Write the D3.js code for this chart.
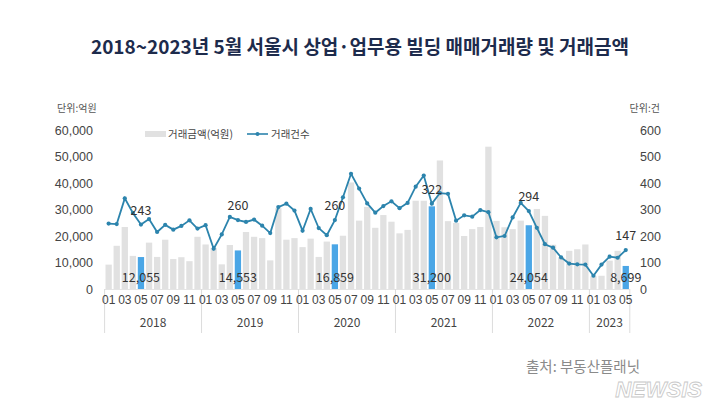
<!DOCTYPE html>
<html><head><meta charset="utf-8">
<script src="https://cdn.jsdelivr.net/npm/d3@7"></script>
<style>
html,body{margin:0;padding:0;background:#fff;}
svg{display:block;font-family:"Noto Sans CJK KR","Noto Sans",sans-serif;}
</style></head>
<body><svg id="c" width="720" height="405"></svg>
<script>
const categories = [
"2018-01","2018-02","2018-03","2018-04","2018-05","2018-06","2018-07","2018-08","2018-09","2018-10","2018-11","2018-12",
"2019-01","2019-02","2019-03","2019-04","2019-05","2019-06","2019-07","2019-08","2019-09","2019-10","2019-11","2019-12",
"2020-01","2020-02","2020-03","2020-04","2020-05","2020-06","2020-07","2020-08","2020-09","2020-10","2020-11","2020-12",
"2021-01","2021-02","2021-03","2021-04","2021-05","2021-06","2021-07","2021-08","2021-09","2021-10","2021-11","2021-12",
"2022-01","2022-02","2022-03","2022-04","2022-05","2022-06","2022-07","2022-08","2022-09","2022-10","2022-11","2022-12",
"2023-01","2023-02","2023-03","2023-04","2023-05"];
const years = ["2018","2019","2020","2021","2022","2023"];
// 거래금액 (억원)
const amount = [
9200,16300,23400,12500,12055,17500,12100,18600,11300,12000,10500,19700,
16800,15500,9300,16600,14553,21500,19700,19200,10800,30500,18600,19200,
15800,19000,12100,17900,16859,20100,40200,25800,31000,23100,27900,25400,
21000,22300,33300,33300,31200,48500,25600,24900,20000,22600,23400,53700,
25700,23300,22600,25800,24054,30200,27600,16700,12000,14400,15000,16800,
4800,5000,10700,14400,8699];
// 거래건수 (건)
const count = [
247,245,342,287,243,264,215,242,224,238,259,228,
241,152,206,272,260,253,262,239,211,309,322,296,
220,302,230,203,260,346,435,379,323,288,313,331,
305,325,386,428,322,362,359,258,278,273,298,290,
195,200,270,325,294,231,169,156,119,96,93,92,
50,92,122,118,147];
const leftTicks = [0,10000,20000,30000,40000,50000,60000];
const rightTicks = [0,100,200,300,400,500,600];
const monthTickLabels = ["01","03","05","07","09","11"];

const svg = d3.select("#c");
const x0 = 104.6, x1 = 629.8, yTop = 130, yBot = 289;

const x = d3.scaleBand().domain(categories).range([x0, x1]).paddingInner(0.22).paddingOuter(0.11);
const yL = d3.scaleLinear().domain([0, 60000]).range([yBot, yTop]);
const yR = d3.scaleLinear().domain([0, 600]).range([yBot, yTop]);
const cx = c => x(c) + x.bandwidth() / 2;
const isMay = c => c.slice(5) === "05";

// title
svg.append("text").attr("x", 360).attr("y", 54).attr("text-anchor", "middle")
  .attr("font-size", 19).attr("font-weight", 700).attr("fill", "#1d2b4c")
  .text("2018~2023년 5월 서울시 상업·업무용 빌딩 매매거래량 및 거래금액");

// units
svg.append("text").attr("x", 57).attr("y", 112).attr("font-size", 10).attr("fill", "#555").text("단위:억원");
svg.append("text").attr("x", 660).attr("y", 112).attr("text-anchor", "end").attr("font-size", 10).attr("fill", "#555").text("단위:건");

// left axis
const gL = svg.append("g").attr("transform", `translate(93,0)`)
  .call(d3.axisLeft(yL).tickValues(leftTicks).tickSize(0).tickPadding(0).tickFormat(d3.format(",")));
gL.select(".domain").remove();
gL.selectAll("text").attr("font-size", 12.5).attr("fill", "#444").attr("font-family", "inherit");

// right axis
const gR = svg.append("g").attr("transform", `translate(640,0)`)
  .call(d3.axisRight(yR).tickValues(rightTicks).tickSize(0).tickPadding(0));
gR.select(".domain").remove();
gR.selectAll("text").attr("font-size", 12.5).attr("fill", "#444").attr("font-family", "inherit");

// bars
svg.append("g").selectAll("rect").data(categories).join("rect")
  .attr("x", d => x(d)).attr("width", x.bandwidth())
  .attr("y", (d, i) => yL(amount[i])).attr("height", (d, i) => yBot - yL(amount[i]))
  .attr("fill", d => isMay(d) ? "#4aa6e6" : "#e1e1e1");

// x axis baseline and year separators
svg.append("line").attr("x1", x0).attr("x2", x1).attr("y1", yBot + 0.5).attr("y2", yBot + 0.5).attr("stroke", "#e4e4e4");
const sepIdx = [0, 12, 24, 36, 48, 60];
const sepX = sepIdx.map(i => x(categories[i]) - x.step() * x.paddingInner() / 2);
sepX.push(x1);
svg.append("g").selectAll("line").data(sepX).join("line")
  .attr("x1", d => d).attr("x2", d => d).attr("y1", yBot).attr("y2", 333)
  .attr("stroke", "#dcdcdc").attr("stroke-width", 1);

// month tick labels
const gX = svg.append("g").attr("transform", `translate(0,${yBot})`)
  .call(d3.axisBottom(x).tickValues(categories.filter(c => monthTickLabels.includes(c.slice(5))))
    .tickSize(0).tickPadding(6).tickFormat(c => c.slice(5)));
gX.select(".domain").remove();
gX.selectAll("text").attr("font-size", 12).attr("fill", "#444").attr("font-family", "inherit");

// year labels
svg.append("g").selectAll("text").data(years).join("text")
  .attr("x", (d, k) => (sepX[k] + sepX[k + 1]) / 2).attr("y", 327)
  .attr("text-anchor", "middle").attr("font-size", 12).attr("fill", "#444").text(d => d);

// line
const lineColor = "#2c84ad";
svg.append("path").datum(categories)
  .attr("fill", "none").attr("stroke", lineColor).attr("stroke-width", 1.8)
  .attr("d", d3.line().x(d => cx(d)).y((d, i) => yR(count[i])));
svg.append("g").selectAll("circle").data(categories).join("circle")
  .attr("cx", d => cx(d)).attr("cy", (d, i) => yR(count[i])).attr("r", 2.1).attr("fill", lineColor);

// May labels
const mayIdx = categories.map((c, i) => isMay(c) ? i : -1).filter(i => i >= 0);
svg.append("g").selectAll("text").data(mayIdx).join("text")
  .attr("x", i => cx(categories[i])).attr("y", 282).attr("text-anchor", "middle")
  .attr("font-size", 12.5).attr("fill", "#333").text(i => d3.format(",")(amount[i]));
svg.append("g").selectAll("text").data(mayIdx).join("text")
  .attr("x", i => cx(categories[i])).attr("y", i => yR(count[i]) - 10).attr("text-anchor", "middle")
  .attr("font-size", 12.5).attr("fill", "#333").text(i => count[i]);

// legend
svg.append("rect").attr("x", 145).attr("y", 131).attr("width", 21).attr("height", 6).attr("fill", "#e1e1e1");
svg.append("text").attr("x", 168).attr("y", 138).attr("font-size", 10.5).attr("fill", "#444").text("거래금액(억원)");
svg.append("line").attr("x1", 247).attr("x2", 268).attr("y1", 134).attr("y2", 134).attr("stroke", lineColor).attr("stroke-width", 1.6);
svg.append("circle").attr("cx", 257.5).attr("cy", 134).attr("r", 2).attr("fill", lineColor);
svg.append("text").attr("x", 271).attr("y", 138).attr("font-size", 10.5).attr("fill", "#444").text("거래건수");

// source
svg.append("text").attr("x", 640).attr("y", 372).attr("text-anchor", "end")
  .attr("font-size", 14.5).attr("fill", "#8a8a8a").text("출처: 부동산플래닛");
// watermark
svg.append("text").attr("x", 702).attr("y", 397).attr("text-anchor", "end")
  .attr("font-size", 22).attr("font-weight", 700).attr("font-style", "italic")
  .attr("font-family", "Liberation Sans, sans-serif")
  .attr("fill", "rgba(255,255,255,0.6)").attr("stroke", "#c8c8c8").attr("stroke-width", 0.8)
  .text("NEWSIS");
</script></body></html>
